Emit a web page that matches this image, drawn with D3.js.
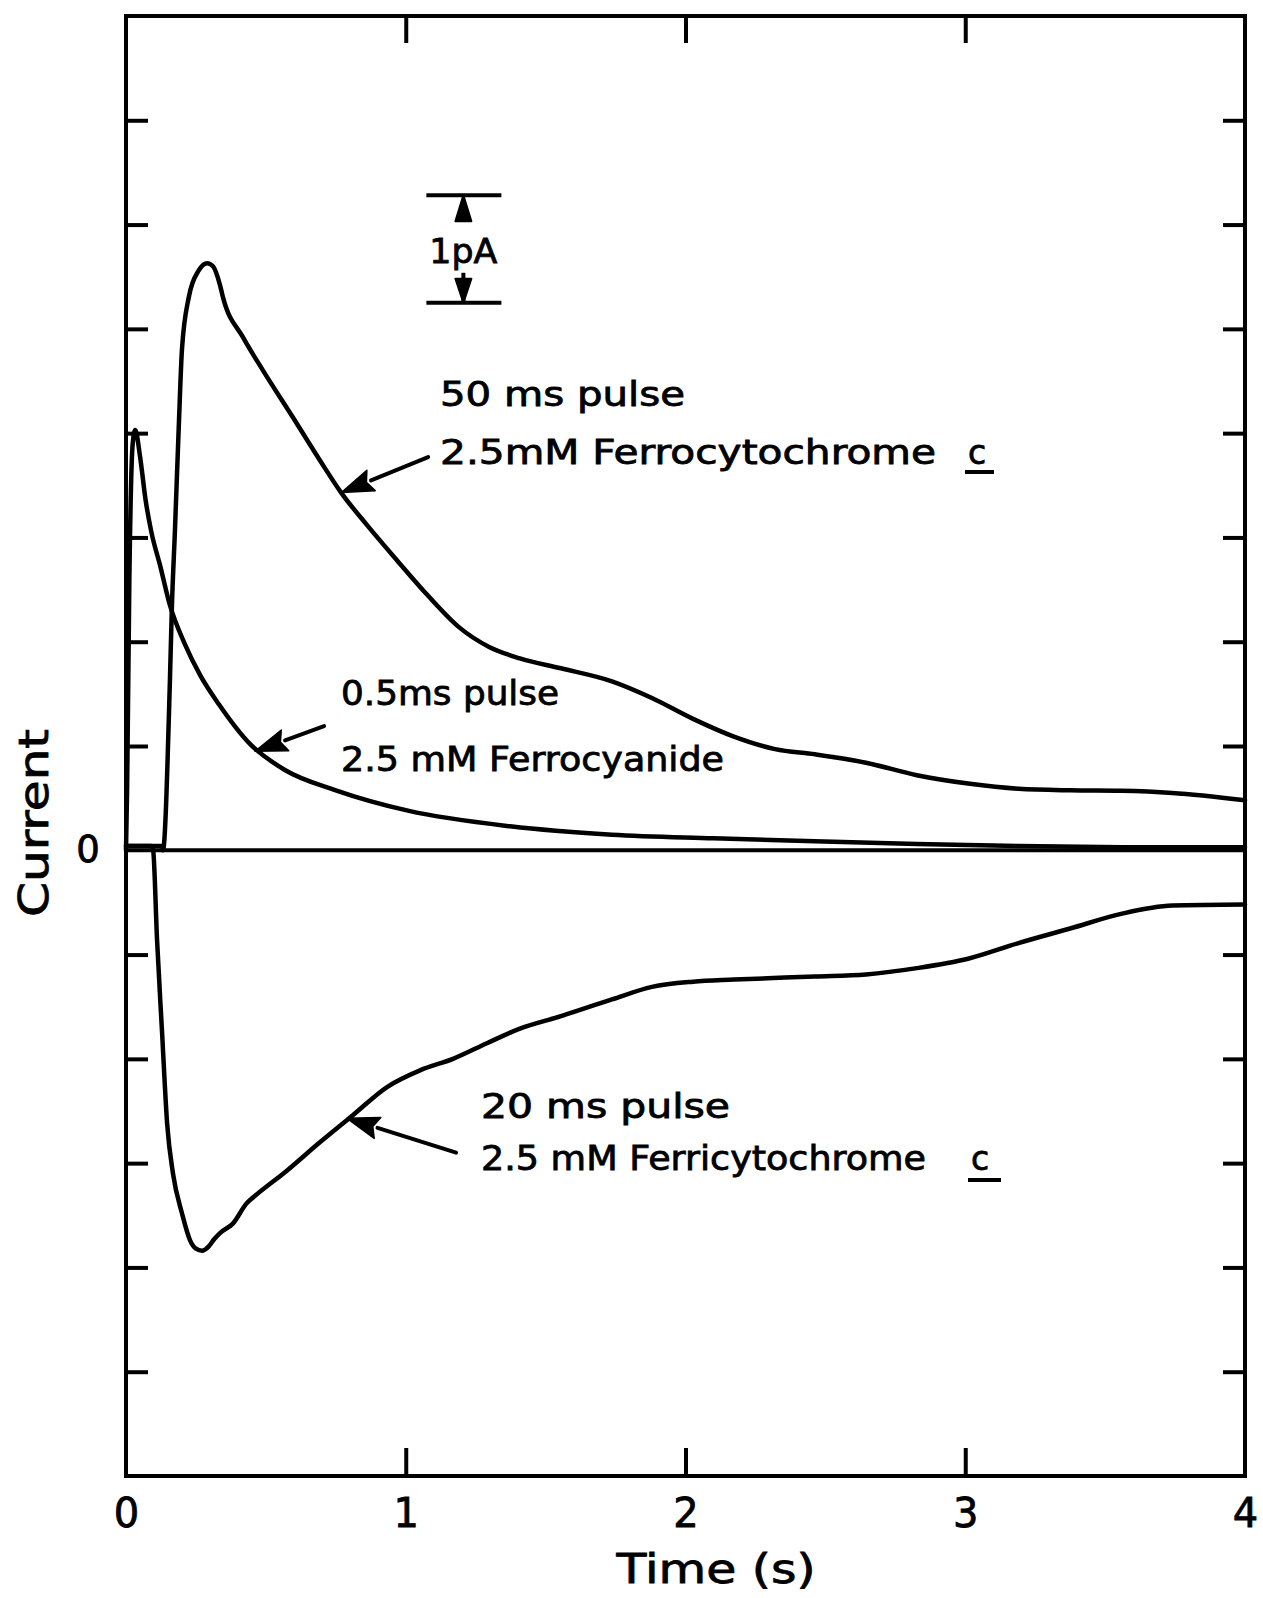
<!DOCTYPE html>
<html><head><meta charset="utf-8">
<script src="https://cdn.jsdelivr.net/npm/d3@7/dist/d3.min.js"></script>
<style>html,body{margin:0;padding:0;background:#fff}</style>
</head><body><svg id="c" width="1263" height="1598"></svg>
<script>
// ---- data (time in s, current in pA) ----
const timeA = [0, 0.13, 0.132, 0.157, 0.164, 0.175, 0.189, 0.2, 0.225, 0.26, 0.29, 0.311, 0.336, 0.347, 0.418, 0.49, 0.597, 0.693, 0.769, 0.861, 0.972, 1.08, 1.19, 1.298, 1.408, 1.555, 1.737, 1.88, 2.027, 2.173, 2.32, 2.463, 2.645, 2.827, 3.01, 3.19, 3.375, 3.557, 3.74, 4.0];
const currA = [0.04, 0.04, 0.0, 1.63, 2.33, 3.07, 4.09, 4.8, 5.31, 5.56, 5.63, 5.6, 5.42, 5.3, 4.92, 4.6, 4.15, 3.74, 3.43, 3.12, 2.77, 2.44, 2.14, 1.95, 1.84, 1.745, 1.62, 1.46, 1.26, 1.09, 0.97, 0.92, 0.84, 0.72, 0.64, 0.59, 0.575, 0.57, 0.55, 0.48];
const timeB = [0, 0.004, 0.012, 0.024, 0.033, 0.05, 0.07, 0.09, 0.122, 0.157, 0.21, 0.265, 0.332, 0.443, 0.568, 0.75, 1.008, 1.373, 1.737, 2.1, 2.463, 2.827, 3.19, 3.6, 4.0];
const currB = [0, 0.6, 2.6, 3.9, 4.03, 3.78, 3.36, 3.06, 2.73, 2.35, 1.98, 1.68, 1.4, 1.02, 0.77, 0.575, 0.38, 0.23, 0.15, 0.115, 0.086, 0.06, 0.04, 0.03, 0.03];
const timeC = [0, 0.09, 0.097, 0.111, 0.129, 0.147, 0.168, 0.2, 0.229, 0.25, 0.272, 0.295, 0.315, 0.336, 0.382, 0.433, 0.454, 0.576, 0.693, 0.811, 0.933, 1.051, 1.169, 1.29, 1.408, 1.555, 1.737, 1.88, 2.027, 2.173, 2.463, 2.645, 2.827, 3.01, 3.19, 3.375, 3.557, 3.74, 4.0];
const currC = [0.04, 0.04, 0, -0.86, -1.75, -2.62, -3.10, -3.48, -3.74, -3.82, -3.84, -3.8, -3.73, -3.67, -3.58, -3.38, -3.33, -3.07, -2.8, -2.54, -2.27, -2.11, -2.0, -1.85, -1.71, -1.59, -1.43, -1.31, -1.26, -1.24, -1.21, -1.19, -1.13, -1.04, -0.89, -0.75, -0.61, -0.53, -0.52];

const xTickValues = [0, 1, 2, 3, 4];
const xTickLabels = ["0", "1", "2", "3", "4"];
const yTickValues = [-5, -4, -3, -2, -1, 1, 2, 3, 4, 5, 6, 7];
const labelTexts = ["50 ms pulse", "2.5mM Ferrocytochrome", "0.5ms pulse", "2.5 mM Ferrocyanide", "20 ms pulse", "2.5 mM Ferricytochrome"];
const axisTitles = ["Time (s)", "Current", "0", "1pA", "c"];

// ---- drawing ----
const FONT = "DejaVu Sans";
const svg = d3.select("#c");
const x = d3.scaleLinear().domain([0, 4]).range([126, 1245]);
const y = d3.scaleLinear().domain([-6, 8]).range([1476, 16]);

// frame
svg.append("rect").attr("x", x(0)).attr("y", y(8)).attr("width", x(4) - x(0)).attr("height", y(-6) - y(8))
  .attr("fill", "none").attr("stroke", "#000").attr("stroke-width", 4);

function styleAxis(g) {
  g.select(".domain").remove();
  g.selectAll(".tick line").attr("stroke", "#000").attr("stroke-width", 4);
}
svg.append("g").attr("transform", `translate(${x(0)},0)`)
  .call(d3.axisLeft(y).tickValues(yTickValues).tickSize(-22).tickFormat("")).call(styleAxis);
svg.append("g").attr("transform", `translate(${x(4)},0)`)
  .call(d3.axisRight(y).tickValues(yTickValues).tickSize(-22).tickFormat("")).call(styleAxis);
svg.append("g").attr("transform", `translate(0,${y(8)})`)
  .call(d3.axisTop(x).tickValues([1, 2, 3]).tickSize(-27).tickFormat("")).call(styleAxis);
const bx = svg.append("g").attr("transform", `translate(0,${y(-6)})`)
  .call(d3.axisBottom(x).tickValues(xTickValues).tickSize(-28).tickPadding(23).tickFormat((d, i) => xTickLabels[i]))
  .call(styleAxis);
bx.selectAll(".tick line").filter(d => d === 0 || d === 4).remove();
bx.selectAll("text").attr("font-family", FONT).attr("font-size", 40).attr("fill", "#000")
  .attr("stroke", "#000").attr("stroke-width", 0.8);
bx.attr("font-family", null).attr("font-size", null);

// zero line
svg.append("line").attr("x1", x(0)).attr("x2", x(4)).attr("y1", y(0)).attr("y2", y(0))
  .attr("stroke", "#000").attr("stroke-width", 4);

// curves
const line = d3.line().x(d => x(d[0])).y(d => y(d[1])).curve(d3.curveMonotoneX);
[[timeA, currA], [timeB, currB], [timeC, currC]].forEach(([t, v]) => {
  svg.append("path").datum(t.map((d, i) => [d, v[i]])).attr("d", line)
    .attr("fill", "none").attr("stroke", "#000").attr("stroke-width", 4.5)
    .attr("stroke-linejoin", "round").attr("stroke-linecap", "round");
});

// arrows
function arrow(t0, v0, t1, v1) {
  const X0 = x(t0), Y0 = y(v0), X1 = x(t1), Y1 = y(v1);
  const a = Math.atan2(Y1 - Y0, X1 - X0);
  const L = 32, W = 11;
  const bxp = X1 - L * Math.cos(a), byp = Y1 - L * Math.sin(a);
  svg.append("line").attr("x1", X0).attr("y1", Y0).attr("x2", bxp).attr("y2", byp)
    .attr("stroke", "#000").attr("stroke-width", 4).attr("stroke-linecap", "round");
  const nx = -Math.sin(a), ny = Math.cos(a);
  svg.append("path").attr("d", `M${X1},${Y1}L${bxp + nx * W},${byp + ny * W}L${bxp + 5 * Math.cos(a)},${byp + 5 * Math.sin(a)}L${bxp - nx * W},${byp - ny * W}Z`)
    .attr("fill", "#000").attr("stroke", "#000").attr("stroke-width", 1.5).attr("stroke-linejoin", "round");
}
arrow(1.08, 3.77, 0.77, 3.43);
arrow(0.708, 1.19, 0.461, 0.95);
arrow(1.18, -2.9, 0.79, -2.57);

// text helper
function txt(s, X, Y, size, len, anchor) {
  const t = svg.append("text").attr("x", X).attr("y", Y).attr("font-family", FONT).attr("font-size", size)
    .attr("fill", "#000").attr("stroke", "#000").attr("stroke-width", 0.8)
    .attr("text-anchor", anchor || "start").text(s);
  if (len) t.attr("textLength", len).attr("lengthAdjust", "spacingAndGlyphs");
  return t;
}
txt(labelTexts[0], 440, 406, 33, 245);
txt(labelTexts[1], 440, 464, 33, 496);
txt(axisTitles[4], 968, 464, 33, 0);
svg.append("line").attr("x1", 965).attr("x2", 994).attr("y1", 472).attr("y2", 472).attr("stroke", "#000").attr("stroke-width", 4);
txt(labelTexts[2], 341, 705, 33, 218);
txt(labelTexts[3], 341, 771, 33, 383);
txt(labelTexts[4], 481, 1118, 33, 249);
txt(labelTexts[5], 481, 1170, 33, 445);
txt(axisTitles[4], 971, 1170, 33, 0);
svg.append("line").attr("x1", 968).attr("x2", 1001).attr("y1", 1180).attr("y2", 1180).attr("stroke", "#000").attr("stroke-width", 4);

// axis titles
txt(axisTitles[0], 716, 1583, 40, 199, "middle");
svg.append("text").attr("transform", "translate(48,823) rotate(-90)").attr("text-anchor", "middle")
  .attr("font-family", FONT).attr("font-size", 40).attr("fill", "#000").attr("stroke", "#000").attr("stroke-width", 0.8)
  .attr("textLength", 188).attr("lengthAdjust", "spacingAndGlyphs").text(axisTitles[1]);
txt(axisTitles[2], 88, 862, 37, 0, "middle");

// scale bar (1 pA)
const sbT = 1.206, sbLo = 5.25, sbHi = 6.28;
const sbX = x(sbT);
[sbLo, sbHi].forEach(v => svg.append("line").attr("x1", sbX - 37).attr("x2", sbX + 38).attr("y1", y(v)).attr("y2", y(v))
  .attr("stroke", "#000").attr("stroke-width", 4));
svg.append("path").attr("d", `M${sbX},${y(sbHi)}L${sbX - 8},${y(sbHi) + 26}L${sbX + 8},${y(sbHi) + 26}Z`)
  .attr("fill", "#000").attr("stroke", "#000").attr("stroke-width", 2).attr("stroke-linejoin", "round");
svg.append("path").attr("d", `M${sbX},${y(sbLo)}L${sbX - 8},${y(sbLo) - 24}L${sbX + 8},${y(sbLo) - 24}Z`)
  .attr("fill", "#000").attr("stroke", "#000").attr("stroke-width", 2).attr("stroke-linejoin", "round");
svg.append("line").attr("x1", sbX).attr("x2", sbX).attr("y1", y(sbLo)).attr("y2", y(sbLo) - 30).attr("stroke", "#000").attr("stroke-width", 4);
txt(axisTitles[3], sbX, 263, 33, 68, "middle");
</script></body></html>
